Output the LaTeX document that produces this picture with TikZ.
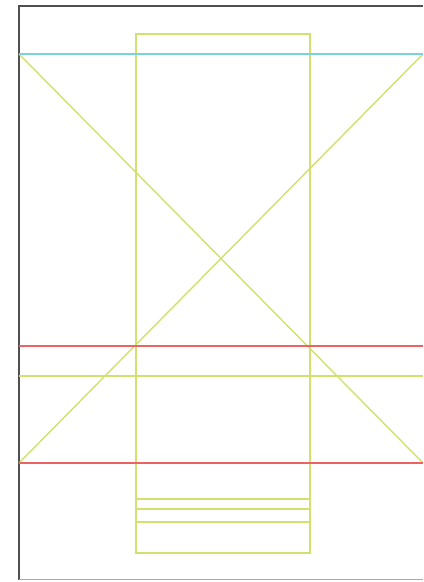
\documentclass[tikz,border=0pt]{standalone}
\definecolor{ylw}{RGB}{210,225,110}
\definecolor{rd}{RGB}{235,100,100}
\definecolor{cy}{RGB}{120,210,225}
\definecolor{frm}{RGB}{80,80,80}
\definecolor{frmb}{RGB}{170,170,170}
\tikzset{
  yl/.style={draw=ylw, line width=1.4bp},
  rl/.style={draw=rd, line width=2bp},
  cl/.style={draw=cy, line width=2bp},
}
\begin{document}
\begin{tikzpicture}[x=1bp,y=-1bp]
\useasboundingbox[fill=white] (0,0) rectangle (423,582);
% frame
\draw[frm, line width=2bp] (423,6) -- (19,6) -- (19,580);
\draw[frmb, line width=1.5bp] (19,579.5) -- (423,579.5);
% rectangle
\draw[yl] (136,34) rectangle (310,553);
\draw[yl] (136,499) -- (310,499);
\draw[yl] (136,509) -- (310,509);
\draw[yl] (136,522) -- (310,522);
% diagonals
\coordinate (tl) at (19,54);
\coordinate (tr) at (423,54);
\coordinate (bl) at (19,463);
\coordinate (br) at (423,463);
\draw[yl] (tl) -- (br);
\draw[yl] (tr) -- (bl);
% horizontals
\draw[yl] (19,376) -- (423,376);
\draw[rl] (19,346) -- (423,346);
\draw[rl] (bl) -- (br);
\draw[cl] (tl) -- (tr);
\end{tikzpicture}
\end{document}
